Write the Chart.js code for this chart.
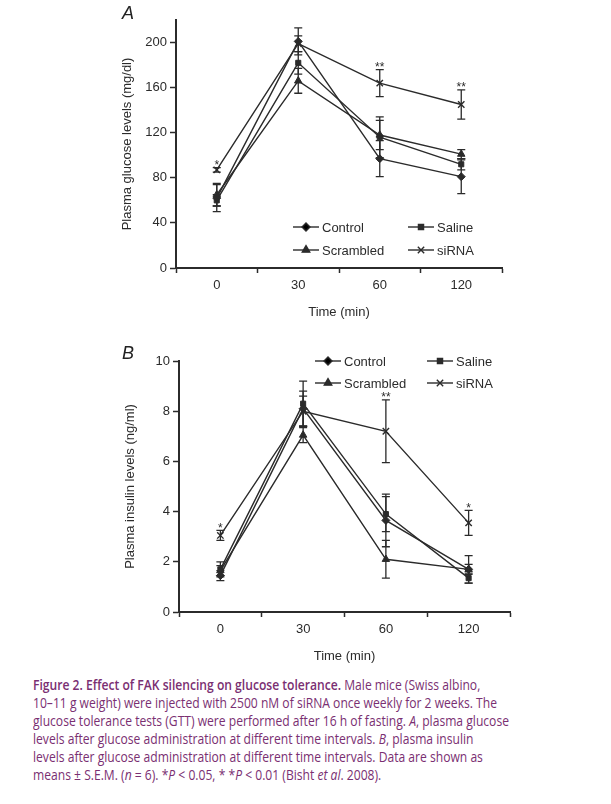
<!DOCTYPE html>
<html><head><meta charset="utf-8">
<script src="https://cdn.jsdelivr.net/npm/chart.js@4.4.1/dist/chart.umd.min.js"></script>
<style>
html,body{margin:0;padding:0;background:#fff;width:611px;height:804px;overflow:hidden;}
#ca{position:absolute;left:0;top:0;}
#cb{position:absolute;left:0;top:330px;}
.panel{position:absolute;font-family:"Liberation Sans",Arial,sans-serif;font-style:italic;font-size:18px;color:#222;}
#cap{position:absolute;left:33px;top:676px;font-family:"Open Sans",sans-serif;font-size:14.5px;line-height:18px;color:#7a2f72;white-space:nowrap;transform:scaleX(0.835);transform-origin:0 0;}
#cap b{font-weight:600;}
</style></head>
<body>
<canvas id="ca" width="611" height="330"></canvas>
<canvas id="cb" width="611" height="340"></canvas>
<div class="panel" style="left:122px;top:3px;">A</div>
<div class="panel" style="left:122px;top:343px;">B</div>
<div id="cap"><b>Figure 2. Effect of FAK silencing on glucose tolerance.</b> Male mice (Swiss albino,<br>10–11 g weight) were injected with 2500 nM of siRNA once weekly for 2 weeks. The<br>glucose tolerance tests (GTT) were performed after 16 h of fasting. <i>A</i>, plasma glucose<br>levels after glucose administration at different time intervals. <i>B</i>, plasma insulin<br>levels after glucose administration at different time intervals. Data are shown as<br>means ± S.E.M. (<i>n</i> = 6). *<i>P</i> &lt; 0.05, * *<i>P</i> &lt; 0.01 (Bisht <i>et al</i>. 2008).</div>
<script>
// ---- data ----
const timeLabels = ['0', '30', '60', '120'];
const seriesNames = ['Control', 'Saline', 'Scrambled', 'siRNA'];

const glucoseControl   = [62, 201, 97, 81];
const glucoseSaline    = [60, 182, 116, 92];
const glucoseScrambled = [65, 166, 118, 101];
const glucoseSiRNA     = [87, 199, 164, 145];
const glucoseControlErr   = [12, 12, 16, 15];
const glucoseSalineErr    = [5, 10, 18, 5];
const glucoseScrambledErr = [10, 11, 13, 4];
const glucoseSiRNAErr     = [2, 7, 12, 13];
const glucoseStars = ['*', '', '**', '**'];
const glucoseTicks = [0, 40, 80, 120, 160, 200];

const insulinControl   = [1.45, 8.1, 3.65, 1.7];
const insulinSaline    = [1.7, 8.3, 3.9, 1.35];
const insulinScrambled = [1.65, 7.05, 2.1, 1.7];
const insulinSiRNA     = [3.05, 8.0, 7.2, 3.55];
const insulinControlErr   = [0.2, 0.7, 1.05, 0.2];
const insulinSalineErr    = [0.3, 0.9, 0.7, 0.2];
const insulinScrambledErr = [0.2, 0.3, 0.75, 0.55];
const insulinSiRNAErr     = [0.2, 0.6, 1.25, 0.5];
const insulinStars = ['*', '', '**', '*'];
const insulinTicks = [0, 2, 4, 6, 8, 10];

// ---- styling ----
const INK = '#2b2b2b';
const FONT = '"Liberation Sans", Arial, sans-serif';
const pointStyles = ['rectRot', 'rect', 'triangle', 'crossRot'];
const pointRadii = [4, 3.6, 4.3, 4.5];

function makeDatasets(vals, errs) {
  return vals.map((v, i) => ({
    label: seriesNames[i],
    data: v,
    errs: errs[i],
    borderColor: INK,
    backgroundColor: INK,
    borderWidth: 1.4,
    pointStyle: pointStyles[i],
    pointRadius: pointRadii[i],
    pointBorderWidth: i === 3 ? 1.4 : 1,
    pointBackgroundColor: INK,
    pointBorderColor: INK,
    tension: 0,
    fill: false
  }));
}

const errorBarPlugin = {
  id: 'errorBars',
  afterDatasetsDraw(chart) {
    const ctx = chart.ctx, ys = chart.scales.y;
    ctx.save();
    ctx.strokeStyle = INK; ctx.lineWidth = 1.3;
    chart.data.datasets.forEach((ds, di) => {
      const meta = chart.getDatasetMeta(di);
      meta.data.forEach((pt, j) => {
        const e = ds.errs[j]; const v = ds.data[j];
        const yt = ys.getPixelForValue(v + e), yb = ys.getPixelForValue(v - e);
        const x = pt.x;
        ctx.beginPath();
        ctx.moveTo(x, yt); ctx.lineTo(x, yb);
        ctx.moveTo(x - 4, yt); ctx.lineTo(x + 4, yt);
        ctx.moveTo(x - 4, yb); ctx.lineTo(x + 4, yb);
        ctx.stroke();
      });
    });
    // significance stars above siRNA
    const stars = chart.options.plugins.errorBars.stars;
    const ds = chart.data.datasets[3];
    const meta = chart.getDatasetMeta(3);
    ctx.fillStyle = INK; ctx.font = '12px ' + FONT; ctx.textAlign = 'center'; ctx.textBaseline = 'bottom';
    stars.forEach((s, j) => {
      if (!s) return;
      const y = ys.getPixelForValue(ds.data[j] + ds.errs[j]);
      ctx.fillText(s, meta.data[j].x, y + 4);
    });
    ctx.restore();
  }
};

const legendPlugin = {
  id: 'customLegend',
  afterDraw(chart) {
    const o = chart.options.plugins.customLegend;
    const ctx = chart.ctx;
    ctx.save();
    ctx.font = '13px ' + FONT; ctx.textBaseline = 'middle'; ctx.textAlign = 'left';
    seriesNames.forEach((name, i) => {
      const col = i % 2, row = Math.floor(i / 2);
      const x = o.x[col], y = o.y[row];
      ctx.strokeStyle = INK; ctx.lineWidth = 1.4;
      ctx.beginPath(); ctx.moveTo(x, y); ctx.lineTo(x + 26, y); ctx.stroke();
      Chart.helpers.drawPoint(ctx, {pointStyle: pointStyles[i], radius: pointRadii[i], borderWidth: i === 3 ? 1.4 : 1}, x + 13, y);
      ctx.fillStyle = INK;
      ctx.fillText(name, x + 29, y + 1);
    });
    ctx.restore();
  }
};

function axisOpts(yTitle, yMax, step, tickVals) {
  const tickFont = {family: FONT, size: 13};
  return {
    x: {
      type: 'category', labels: timeLabels, offset: true,
      grid: {offset: true, drawOnChartArea: false, tickLength: 5, tickColor: INK, tickWidth: 1.5},
      border: {color: INK, width: 2},
      ticks: {color: INK, font: tickFont, padding: 5},
      title: {display: true, text: 'Time (min)', color: INK, font: tickFont, padding: {top: 4, bottom: 0}},
      afterFit: s => { s.height = 52; }
    },
    y: {
      min: 0, max: yMax,
      afterBuildTicks: s => { s.ticks = tickVals.map(v => ({value: v})); },
      grid: {drawOnChartArea: false, tickLength: 6, tickColor: INK, tickWidth: 1.5},
      border: {color: INK, width: 2},
      ticks: {color: INK, font: tickFont, padding: 3, stepSize: step},
      title: {display: true, text: yTitle, color: INK, font: tickFont, padding: {top: 4, bottom: 0}},
      afterFit: s => { s.width = 60; }
    }
  };
}

Chart.defaults.font.family = FONT;

new Chart(document.getElementById('ca'), {
  type: 'line',
  data: {labels: timeLabels, datasets: makeDatasets(
    [glucoseControl, glucoseSaline, glucoseScrambled, glucoseSiRNA],
    [glucoseControlErr, glucoseSalineErr, glucoseScrambledErr, glucoseSiRNAErr])},
  options: {
    responsive: false, animation: false, devicePixelRatio: 1,
    layout: {padding: {left: 116, right: 109, top: 20, bottom: 10}},
    scales: axisOpts('Plasma glucose levels (mg/dl)', 220, 40, glucoseTicks),
    plugins: {legend: {display: false}, tooltip: {enabled: false},
      errorBars: {stars: glucoseStars},
      customLegend: {x: [293, 408], y: [227, 250]}}
  },
  plugins: [errorBarPlugin, legendPlugin]
});

new Chart(document.getElementById('cb'), {
  type: 'line',
  data: {labels: timeLabels, datasets: makeDatasets(
    [insulinControl, insulinSaline, insulinScrambled, insulinSiRNA],
    [insulinControlErr, insulinSalineErr, insulinScrambledErr, insulinSiRNAErr])},
  options: {
    responsive: false, animation: false, devicePixelRatio: 1,
    layout: {padding: {left: 119, right: 101, top: 31, bottom: 6}},
    scales: axisOpts('Plasma insulin levels (ng/ml)', 10, 2, insulinTicks),
    plugins: {legend: {display: false}, tooltip: {enabled: false},
      errorBars: {stars: insulinStars},
      customLegend: {x: [315, 427], y: [31, 53]}}
  },
  plugins: [errorBarPlugin, legendPlugin]
});
</script>
</body></html>
